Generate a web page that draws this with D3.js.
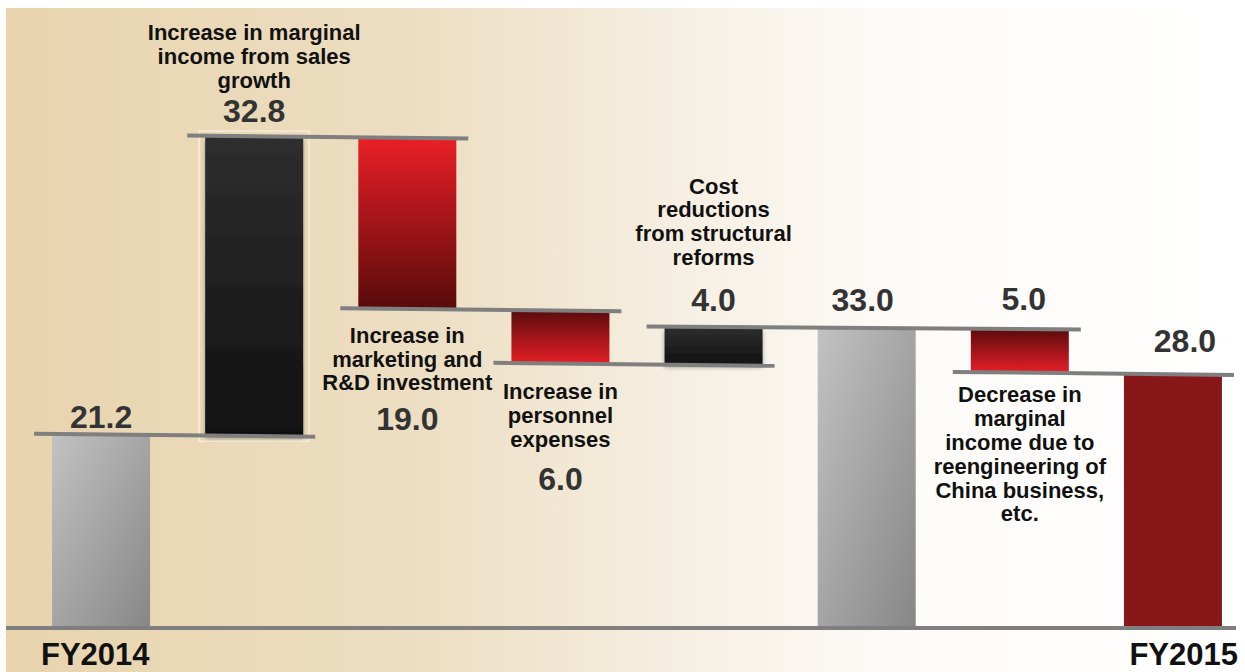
<!DOCTYPE html>
<html>
<head>
<meta charset="utf-8">
<script src="https://cdn.jsdelivr.net/npm/d3@7"></script>
<style>
  body { margin: 0; background: #fff; }
  svg { display: block; }
  .value_str { font-family: "Liberation Sans", Arial, sans-serif; font-weight: bold; font-size: 32px; fill: #333; }
  .desc_str { font-family: "Liberation Sans", Arial, sans-serif; font-weight: bold; font-size: 22px; fill: #111; }
  .fy_str { font-family: "Liberation Sans", Arial, sans-serif; font-weight: bold; font-size: 31px; fill: #111; }
  .connector { stroke: #7f7f7f; stroke-width: 4; }
</style>
</head>
<body>
<svg id="chart" width="1245" height="672"></svg>
<script>
// data
var categories = ["FY2014", "Sales growth", "Marketing and R&D", "Personnel", "Structural reforms", "Subtotal", "China business", "FY2015"];
var values = [21.2, 32.8, -19.0, -6.0, 4.0, 33.0, -5.0, 28.0];
var kinds = ["total", "up", "down", "down", "up", "total", "down", "total"];
var valueLabels = ["21.2", "32.8", "19.0", "6.0", "4.0", "33.0", "5.0", "28.0"];
var descriptions = [
  [],
  ["Increase in marginal", "income from sales", "growth"],
  ["Increase in", "marketing and", "R&D investment"],
  ["Increase in", "personnel", "expenses"],
  ["Cost", "reductions", "from structural", "reforms"],
  [],
  ["Decrease in", "marginal", "income due to", "reengineering of", "China business,", "etc."],
  []
];
var axisLabels = ["FY2014", "FY2015"];

// styling per bar (not data)
var fills = ["url(#grayGrad)", "url(#blackGrad)", "url(#redTop)", "url(#redBottom)", "url(#blackGrad)", "url(#grayGrad)", "url(#redBottom)", "#88171a"];

var svg = d3.select("#chart");
var width = 1245, height = 672;

// waterfall steps
var running = 0;
var steps = values.map(function(v, i) {
  var s, e;
  if (kinds[i] === "total") { s = 0; e = v; }
  else { s = running; e = running + v; }
  running = e;
  return { i: i, cat: categories[i], start: s, end: e, lo: Math.min(s, e), hi: Math.max(s, e) };
});

var x = d3.scaleBand()
  .domain(categories)
  .range([24.5, 1249.5])
  .paddingInner(0.36)
  .paddingOuter(0.18);

var y = d3.scaleLinear()
  .domain([0, 54])
  .range([628, 137]);

// gradients
var defs = svg.append("defs");
var bg = defs.append("linearGradient").attr("id", "bgGrad").attr("x1", 0).attr("x2", 1).attr("y1", 0).attr("y2", 0);
bg.append("stop").attr("offset", "0%").attr("stop-color", "#e8d3ad");
bg.append("stop").attr("offset", "35%").attr("stop-color", "#eddfc4");
bg.append("stop").attr("offset", "55%").attr("stop-color", "#f6efe3");
bg.append("stop").attr("offset", "72%").attr("stop-color", "#fdfbf8");
bg.append("stop").attr("offset", "100%").attr("stop-color", "#ffffff");

var gray = defs.append("linearGradient").attr("id", "grayGrad").attr("x1", 0).attr("y1", 0).attr("x2", 1).attr("y2", 1);
gray.append("stop").attr("offset", "0%").attr("stop-color", "#c2c2c2");
gray.append("stop").attr("offset", "100%").attr("stop-color", "#878787");

var black = defs.append("linearGradient").attr("id", "blackGrad").attr("x1", 0).attr("y1", 0).attr("x2", 0).attr("y2", 1);
black.append("stop").attr("offset", "0%").attr("stop-color", "#2e2e2e");
black.append("stop").attr("offset", "100%").attr("stop-color", "#111111");

var redTop = defs.append("linearGradient").attr("id", "redTop").attr("x1", 0).attr("y1", 0).attr("x2", 0).attr("y2", 1);
redTop.append("stop").attr("offset", "0%").attr("stop-color", "#ea1f27");
redTop.append("stop").attr("offset", "100%").attr("stop-color", "#580a0b");

var redBottom = defs.append("linearGradient").attr("id", "redBottom").attr("x1", 0).attr("y1", 0).attr("x2", 0).attr("y2", 1);
redBottom.append("stop").attr("offset", "0%").attr("stop-color", "#570b0c");
redBottom.append("stop").attr("offset", "100%").attr("stop-color", "#e81f27");

var shadow = defs.append("filter").attr("id", "shadow").attr("x", "-20%").attr("y", "-20%").attr("width", "140%").attr("height", "160%");
shadow.append("feDropShadow").attr("dx", 0).attr("dy", 3).attr("stdDeviation", 2).attr("flood-color", "#000").attr("flood-opacity", 0.35);

// background pane
svg.append("rect")
  .attr("x", 6).attr("y", 8)
  .attr("width", width - 6).attr("height", height - 8)
  .attr("fill", "url(#bgGrad)");

// faint halo around the big rising bar
svg.selectAll(".halo")
  .data(steps.filter(function(d) { return d.i === 1; }))
  .enter().append("rect")
  .attr("class", "halo")
  .attr("x", function(d) { return x(d.cat) - 6; })
  .attr("y", function(d) { return y(d.hi) - 6; })
  .attr("width", x.bandwidth() + 12)
  .attr("height", function(d) { return y(d.lo) - y(d.hi) + 12; })
  .attr("fill", "none")
  .attr("stroke", "#f7ecd8")
  .attr("stroke-width", 1.5);

// bars
svg.selectAll(".bar")
  .data(steps)
  .enter().append("rect")
  .attr("class", "bar")
  .attr("x", function(d) { return x(d.cat); })
  .attr("y", function(d) { return y(d.hi); })
  .attr("width", x.bandwidth())
  .attr("height", function(d) { return y(d.lo) - y(d.hi); })
  .attr("fill", function(d) { return fills[d.i]; })
  .attr("filter", function(d) { return kinds[d.i] === "up" ? "url(#shadow)" : null; });

// connector lines: merge runs at the same level
var connectors = [];
for (var i = 0; i < steps.length - 1; i++) {
  var level = steps[i].end;
  var last = connectors[connectors.length - 1];
  if (last && last.level === level && last.to === i) { last.to = i + 1; }
  else { connectors.push({ level: level, from: i, to: i + 1 }); }
}
svg.selectAll(".connector")
  .data(connectors)
  .enter().append("line")
  .attr("class", "connector")
  .attr("x1", function(d) { return x(categories[d.from]) - 18; })
  .attr("x2", function(d) { return Math.min(x(categories[d.to]) + x.bandwidth() + 12, 1236); })
  .attr("y1", function(d) { return y(d.level) - 1.5; })
  .attr("y2", function(d) { return y(d.level) + 1.5; });

// baseline
svg.append("line")
  .attr("class", "connector")
  .attr("x1", 6).attr("x2", 1236)
  .attr("y1", y(0)).attr("y2", y(0));

// value labels
var valueY = function(d) {
  var k = kinds[d.i];
  if (k === "total") return y(d.hi) - (d.i === 0 ? 7 : d.i === 7 ? 21 : 17);
  if (k === "up") return y(d.hi) - (d.i === 1 ? 15 : 17);
  // down
  if (d.i === 6) return y(d.hi) - 18;
  return y(d.lo) + (d.i === 2 ? 120 : 126);
};
var valueDx = [0, 0, 0, 0, 0, -4, 4, 12];
svg.selectAll(".value_str")
  .data(steps)
  .enter().append("text")
  .attr("class", "value_str")
  .attr("text-anchor", "middle")
  .attr("x", function(d) { return x(d.cat) + x.bandwidth() / 2 + valueDx[d.i]; })
  .attr("y", valueY)
  .text(function(d) { return valueLabels[d.i]; });

// description labels
var lineH = 23.8;
var descTop = function(d) {
  var n = descriptions[d.i].length;
  if (kinds[d.i] === "up") {
    var lastLine = valueY(d) - (d.i === 1 ? 34 : 46);
    return lastLine - (n - 1) * lineH;
  }
  if (d.i === 6) return y(d.lo) + 29;
  return y(d.lo) + (d.i === 2 ? 33 : 35);
};
steps.forEach(function(d) {
  var lines = descriptions[d.i];
  if (!lines.length) return;
  var t = svg.append("text")
    .attr("class", "desc_str")
    .attr("text-anchor", "middle");
  var cx = x(d.cat) + x.bandwidth() / 2;
  var top = descTop(d);
  lines.forEach(function(s, j) {
    t.append("tspan").attr("x", cx).attr("y", top + j * lineH).text(s);
  });
});

// fiscal year labels
svg.append("text").attr("class", "fy_str").attr("x", 41).attr("y", 665).text(axisLabels[0]);
svg.append("text").attr("class", "fy_str").attr("x", 1238).attr("y", 665).attr("text-anchor", "end").text(axisLabels[1]);
</script>
</body>
</html>
